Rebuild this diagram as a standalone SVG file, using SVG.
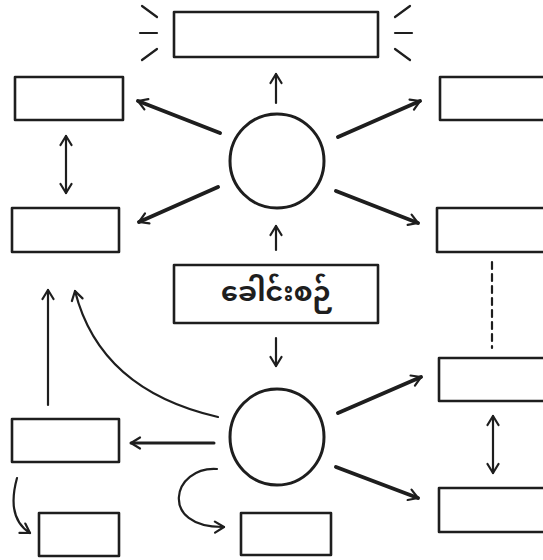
<svg xmlns="http://www.w3.org/2000/svg" width="543" height="560" viewBox="0 0 543 560">
<style>
.box{fill:none;stroke:#1e1e1e;stroke-width:2.6;stroke-linejoin:round}
.edge{fill:none;stroke:#1e1e1e;stroke-linecap:round}
.thin{stroke-width:2.2}
.thick{stroke-width:4}
.ring{fill:none;stroke:#1e1e1e;stroke-width:3}
.label{font-family:"Noto Sans Myanmar","Padauk","Myanmar Text","Noto Sans",sans-serif;font-size:27px;font-weight:700;fill:#1e1e1e;text-anchor:middle;dominant-baseline:central}
</style>
<defs>
<marker id="ah" viewBox="0 0 14 14" refX="12" refY="7" markerWidth="14" markerHeight="14" markerUnits="userSpaceOnUse" orient="auto-start-reverse">
<path d="M3,1.5 L12,7 L3,12.5" fill="none" stroke="#1e1e1e" stroke-width="2.2" stroke-linecap="round" stroke-linejoin="round"/>
</marker>
</defs>
<rect width="543" height="560" fill="#ffffff"/>

<g id="glow">
<line class="edge thin" x1="142" y1="6" x2="157" y2="17"/>
<line class="edge thin" x1="140" y1="33" x2="157" y2="33"/>
<line class="edge thin" x1="142" y1="60" x2="157" y2="49"/>
<line class="edge thin" x1="410" y1="6" x2="395" y2="17"/>
<line class="edge thin" x1="412" y1="33" x2="395" y2="33"/>
<line class="edge thin" x1="410" y1="60" x2="395" y2="49"/>
</g>

<g id="top-box"><rect class="box" x="174" y="12" width="204" height="45"/></g>
<g id="top-left-box"><rect class="box" x="15" y="77" width="108" height="43"/></g>
<g id="mid-left-box"><rect class="box" x="12" y="208" width="107" height="44"/></g>
<g id="top-right-box"><rect class="box" x="440" y="77" width="130" height="43"/></g>
<g id="mid-right-box"><rect class="box" x="437" y="208" width="130" height="44"/></g>
<g id="title-box">
<rect class="box" x="174" y="265" width="204" height="58"/>
<text class="label" x="277" y="294">ခေါင်းစဉ်</text>
</g>
<g id="top-circle"><ellipse class="ring" cx="277" cy="161" rx="47" ry="47"/></g>
<g id="bottom-circle"><ellipse class="ring" cx="277" cy="437" rx="47" ry="48"/></g>
<g id="low-right-box"><rect class="box" x="439" y="358" width="130" height="43"/></g>
<g id="bottom-right-box"><rect class="box" x="439" y="488" width="130" height="44"/></g>
<g id="low-left-box"><rect class="box" x="12" y="419" width="107" height="43"/></g>
<g id="bottom-left-box"><rect class="box" x="39" y="513" width="80" height="43"/></g>
<g id="bottom-center-box"><rect class="box" x="241" y="513" width="90" height="42"/></g>

<g id="connectors">
<line class="edge thin" x1="276" y1="103" x2="276" y2="74" marker-end="url(#ah)"/>
<line class="edge thick" x1="220" y1="133" x2="138" y2="101" marker-end="url(#ah)"/>
<line class="edge thick" x1="218" y1="187" x2="139" y2="222" marker-end="url(#ah)"/>
<line class="edge thick" x1="338" y1="137" x2="420" y2="101" marker-end="url(#ah)"/>
<line class="edge thick" x1="336" y1="191" x2="418" y2="223" marker-end="url(#ah)"/>
<line class="edge thin" x1="66" y1="136" x2="66" y2="193" marker-start="url(#ah)" marker-end="url(#ah)"/>
<line class="edge thin" x1="492" y1="262" x2="492" y2="348" stroke-dasharray="7,5"/>
<line class="edge thin" x1="276" y1="250" x2="276" y2="226" marker-end="url(#ah)"/>
<line class="edge thin" x1="276" y1="338" x2="276" y2="366" marker-end="url(#ah)"/>
<line class="edge thick" x1="338" y1="413" x2="421" y2="377" marker-end="url(#ah)"/>
<line class="edge thick" x1="336" y1="467" x2="418" y2="498" marker-end="url(#ah)"/>
<line class="edge thin" x1="493" y1="416" x2="493" y2="473" marker-start="url(#ah)" marker-end="url(#ah)"/>
<line class="edge thin" x1="48" y1="405" x2="48" y2="290" marker-end="url(#ah)"/>
<path class="edge thin" d="M218,417 Q100,390 75,291" marker-end="url(#ah)"/>
<line class="edge" x1="214" y1="443" x2="131" y2="443" style="stroke-width:3" marker-end="url(#ah)"/>
<path class="edge thin" d="M17,478 Q6,518 30,533" marker-end="url(#ah)"/>
<path class="edge thin" d="M217,469 C172,466 158,528 224,527" marker-end="url(#ah)"/>
</g>
</svg>
